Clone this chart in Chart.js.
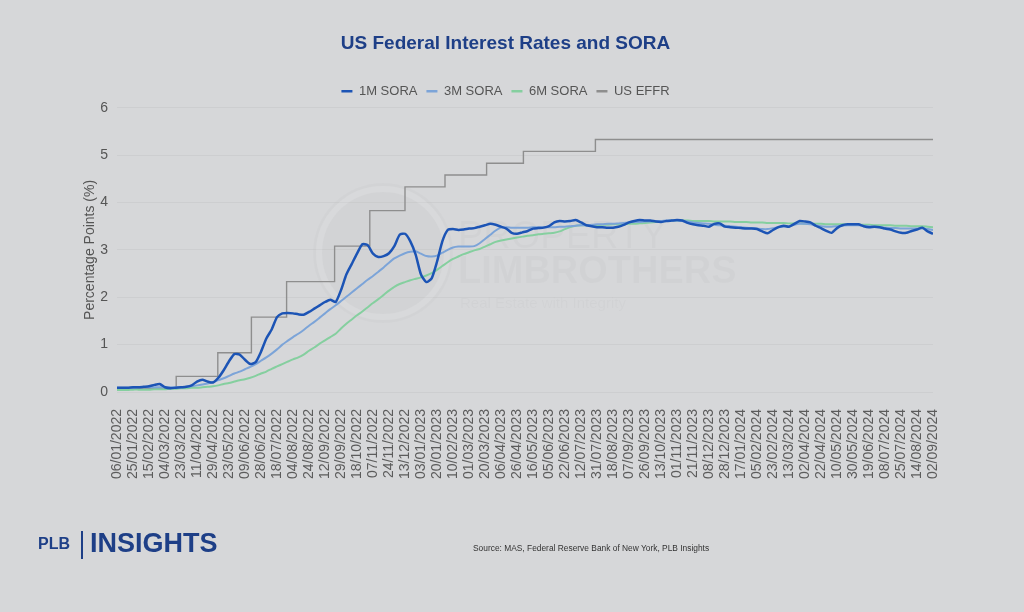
<!DOCTYPE html>
<html>
<head>
<meta charset="utf-8">
<script src="https://cdn.jsdelivr.net/npm/chart.js@4.4.1/dist/chart.umd.min.js"></script>
<style>
    html, body { margin: 0; padding: 0; background: #d6d7d9; }
    #wrap { position: relative; width: 1024px; height: 612px; overflow: hidden; }
    #chart { position: absolute; left: 0; top: 0; }
    .logo-plb { position: absolute; left: 38px; top: 535px; font: bold 16px "Liberation Sans", Arial, sans-serif; color: #1e3f87; }
    .logo-bar { position: absolute; left: 81px; top: 531px; width: 2px; height: 28px; background: #1e3f87; }
    .logo-ins { position: absolute; left: 90px; top: 528px; font: bold 27px "Liberation Sans", Arial, sans-serif; color: #1e3f87; }
    .source { position: absolute; left: 473px; top: 542px; font: 9.7px "Liberation Sans", Arial, sans-serif; color: #333; white-space: nowrap;
              transform: scaleX(0.865); transform-origin: left center; }
</style>
</head>
<body>
<div id="wrap">
    <canvas id="chart" width="1024" height="612"></canvas>
    <div class="logo-plb">PLB</div>
    <div class="logo-bar"></div>
    <div class="logo-ins">INSIGHTS</div>
    <div class="source">Source: MAS, Federal Reserve Bank of New York, PLB Insights</div>
</div>
<script>
// Tick labels on the x axis (one every ~13 business days)
const xTicks = [
    '06/01/2022', '25/01/2022', '15/02/2022', '04/03/2022', '23/03/2022', '11/04/2022',
    '29/04/2022', '23/05/2022', '09/06/2022', '28/06/2022', '18/07/2022', '04/08/2022',
    '24/08/2022', '12/09/2022', '29/09/2022', '18/10/2022', '07/11/2022', '24/11/2022',
    '13/12/2022', '03/01/2023', '20/01/2023', '10/02/2023', '01/03/2023', '20/03/2023',
    '06/04/2023', '26/04/2023', '16/05/2023', '05/06/2023', '22/06/2023', '12/07/2023',
    '31/07/2023', '18/08/2023', '07/09/2023', '26/09/2023', '13/10/2023', '01/11/2023',
    '21/11/2023', '08/12/2023', '28/12/2023', '17/01/2024', '05/02/2024', '23/02/2024',
    '13/03/2024', '02/04/2024', '22/04/2024', '10/05/2024', '30/05/2024', '19/06/2024',
    '08/07/2024', '25/07/2024', '14/08/2024', '02/09/2024'
];

// SORA readings, 3 samples per tick interval (first sample on the first tick)
const samplesPerTick = 3;

const sora1m = [
    0.09, 0.09, 0.09, 0.10, 0.10, 0.11, 0.12, 0.15, 0.17, 0.10,
    0.08, 0.09, 0.10, 0.11, 0.14, 0.22, 0.26, 0.22, 0.20, 0.30,
    0.46, 0.65, 0.80, 0.79, 0.68, 0.59, 0.63, 0.85, 1.13, 1.32,
    1.58, 1.66, 1.67, 1.66, 1.64, 1.63, 1.69, 1.76, 1.83, 1.90,
    1.95, 1.90, 2.15, 2.48, 2.70, 2.92, 3.12, 3.10, 2.92, 2.85,
    2.87, 2.93, 3.08, 3.32, 3.34, 3.18, 2.90, 2.48, 2.32, 2.40,
    2.75, 3.18, 3.42, 3.44, 3.42, 3.43, 3.45, 3.46, 3.49, 3.52,
    3.55, 3.53, 3.49, 3.45, 3.36, 3.34, 3.37, 3.40, 3.45, 3.46,
    3.47, 3.50, 3.58, 3.61, 3.60, 3.61, 3.63, 3.58, 3.52, 3.50,
    3.48, 3.48, 3.47, 3.47, 3.49, 3.53, 3.58, 3.61, 3.63, 3.62,
    3.62, 3.60, 3.59, 3.61, 3.62, 3.63, 3.62, 3.57, 3.54, 3.52,
    3.51, 3.49, 3.55, 3.56, 3.49, 3.48, 3.47, 3.46, 3.45, 3.45,
    3.44, 3.39, 3.35, 3.42, 3.48, 3.51, 3.49, 3.55, 3.61, 3.60,
    3.58, 3.51, 3.46, 3.40, 3.36, 3.46, 3.52, 3.54, 3.54, 3.54,
    3.50, 3.48, 3.49, 3.48, 3.45, 3.43, 3.39, 3.36, 3.36, 3.40,
    3.43, 3.47, 3.39, 3.34
];

const sora3m = [
    0.09, 0.09, 0.09, 0.09, 0.10, 0.10, 0.10, 0.10, 0.10, 0.10,
    0.10, 0.10, 0.10, 0.11, 0.12, 0.14, 0.16, 0.18, 0.21, 0.25,
    0.29, 0.34, 0.39, 0.43, 0.48, 0.53, 0.59, 0.66, 0.73, 0.81,
    0.90, 1.00, 1.08, 1.16, 1.23, 1.31, 1.40, 1.48, 1.57, 1.66,
    1.75, 1.83, 1.92, 2.01, 2.10, 2.19, 2.28, 2.37, 2.45, 2.54,
    2.63, 2.73, 2.82, 2.88, 2.93, 2.96, 2.97, 2.92, 2.87, 2.86,
    2.88, 2.94, 3.00, 3.05, 3.07, 3.07, 3.07, 3.08, 3.14, 3.23,
    3.32, 3.41, 3.47, 3.48, 3.47, 3.47, 3.47, 3.47, 3.48, 3.48,
    3.48, 3.48, 3.48, 3.49, 3.49, 3.50, 3.51, 3.52, 3.52, 3.53,
    3.54, 3.54, 3.55, 3.55, 3.56, 3.57, 3.58, 3.59, 3.59, 3.60,
    3.60, 3.61, 3.61, 3.62, 3.62, 3.62, 3.61, 3.60, 3.58, 3.57,
    3.56, 3.55, 3.53, 3.52, 3.51, 3.50, 3.49, 3.48, 3.47, 3.46,
    3.45, 3.44, 3.44, 3.46, 3.48, 3.49, 3.50, 3.53, 3.55, 3.55,
    3.54, 3.52, 3.50, 3.49, 3.49, 3.50, 3.51, 3.52, 3.52, 3.52,
    3.51, 3.50, 3.49, 3.48, 3.47, 3.46, 3.46, 3.45, 3.45, 3.45,
    3.45, 3.45, 3.44, 3.42
];

const sora6m = [
    0.04, 0.04, 0.04, 0.05, 0.05, 0.05, 0.05, 0.06, 0.06, 0.06,
    0.07, 0.07, 0.08, 0.08, 0.09, 0.09, 0.10, 0.11, 0.12, 0.14,
    0.17, 0.19, 0.22, 0.25, 0.27, 0.30, 0.34, 0.39, 0.43, 0.49,
    0.54, 0.59, 0.64, 0.69, 0.73, 0.79, 0.87, 0.94, 1.02, 1.09,
    1.16, 1.23, 1.34, 1.44, 1.53, 1.62, 1.70, 1.79, 1.88, 1.96,
    2.05, 2.14, 2.22, 2.28, 2.32, 2.36, 2.39, 2.42, 2.46, 2.51,
    2.58, 2.66, 2.74, 2.81, 2.86, 2.91, 2.95, 2.99, 3.02, 3.07,
    3.12, 3.17, 3.20, 3.22, 3.24, 3.26, 3.28, 3.30, 3.31, 3.33,
    3.34, 3.35, 3.36, 3.39, 3.44, 3.48, 3.51, 3.52, 3.52, 3.52,
    3.52, 3.53, 3.53, 3.54, 3.54, 3.54, 3.55, 3.55, 3.56, 3.57,
    3.58, 3.59, 3.60, 3.61, 3.62, 3.62, 3.62, 3.62, 3.61, 3.61,
    3.61, 3.61, 3.60, 3.60, 3.60, 3.60, 3.59, 3.59, 3.59, 3.58,
    3.58, 3.58, 3.57, 3.57, 3.57, 3.57, 3.56, 3.56, 3.56, 3.55,
    3.55, 3.55, 3.55, 3.54, 3.54, 3.54, 3.54, 3.54, 3.53, 3.53,
    3.53, 3.53, 3.52, 3.52, 3.52, 3.52, 3.51, 3.51, 3.51, 3.50,
    3.50, 3.50, 3.49, 3.48
];

// US EFFR: position of each rate change in tick units, and the new rate
const effrAt   = [0,    3.7,  6.3,  8.4,  10.6, 13.6, 15.8, 18.0, 20.5, 23.1, 25.4, 29.9, 51];
const effrRate = [0.08, 0.33, 0.83, 1.58, 2.33, 3.08, 3.83, 4.33, 4.58, 4.83, 5.08, 5.33, 5.33];

const navy = '#1e3f87';
const axisGrey = '#555555';

function toPoints(values) {
    return values.map((v, i) => ({ x: i / samplesPerTick, y: v }));
}

// Faint "Property Limbrothers" watermark behind the lines
const watermark = {
    id: 'watermark',
    beforeDatasetsDraw(chart) {
        const ctx = chart.ctx;
        ctx.save();
        ctx.fillStyle = 'rgba(0, 0, 0, 0.015)';
        ctx.beginPath();
        ctx.arc(383, 253, 70, 0, Math.PI * 2);
        ctx.fill();
        ctx.lineWidth = 6;
        ctx.strokeStyle = 'rgba(255, 255, 255, 0.12)';
        ctx.beginPath();
        ctx.arc(383, 253, 64, 0, Math.PI * 2);
        ctx.stroke();
        ctx.fillStyle = 'rgba(0, 0, 0, 0.02)';
        ctx.textBaseline = 'middle';
        ctx.font = '38px "Liberation Sans", Arial, sans-serif';
        ctx.fillText('PROPERTY', 458, 238);
        ctx.font = 'bold 38px "Liberation Sans", Arial, sans-serif';
        ctx.fillText('LIMBROTHERS', 458, 273);
        ctx.font = '15px "Liberation Sans", Arial, sans-serif';
        ctx.fillText('Real Estate with Integrity', 460, 304);
        ctx.restore();
    }
};

const ctx = document.getElementById('chart').getContext('2d');
new Chart(ctx, {
    type: 'line',
    data: {
        datasets: [
            {
                label: '1M SORA',
                data: toPoints(sora1m),
                borderColor: '#1c54b5',
                backgroundColor: '#1c54b5',
                borderWidth: 2.5,
                pointRadius: 0,
                tension: 0.2,
                borderJoinStyle: 'round'
            },
            {
                label: '3M SORA',
                data: toPoints(sora3m),
                borderColor: '#7ca4d8',
                backgroundColor: '#7ca4d8',
                borderWidth: 2,
                pointRadius: 0,
                tension: 0.2
            },
            {
                label: '6M SORA',
                data: toPoints(sora6m),
                borderColor: '#85cf9f',
                backgroundColor: '#85cf9f',
                borderWidth: 2,
                pointRadius: 0,
                tension: 0.2
            },
            {
                label: 'US EFFR',
                data: effrAt.map((x, i) => ({ x: x, y: effrRate[i] })),
                borderColor: '#8e8e8e',
                backgroundColor: '#8e8e8e',
                borderWidth: 1.4,
                pointRadius: 0,
                stepped: 'before'
            }
        ]
    },
    options: {
        responsive: false,
        animation: false,
        layout: {
            padding: { left: 78, right: 91, top: 0, bottom: 130 }
        },
        plugins: {
            title: {
                display: true,
                text: 'US Federal Interest Rates and SORA',
                color: navy,
                font: { family: '"Liberation Sans", Arial, sans-serif', size: 19, weight: 'bold' },
                padding: { top: 32, bottom: 21 }
            },
            legend: {
                position: 'top',
                labels: {
                    color: axisGrey,
                    font: { family: '"Liberation Sans", Arial, sans-serif', size: 13 },
                    usePointStyle: true,
                    pointStyle: 'line',
                    pointStyleWidth: 11,
                    boxHeight: 10,
                    padding: 9,
                    generateLabels: chart => Chart.defaults.plugins.legend.labels.generateLabels(chart)
                        .map(item => Object.assign(item, { lineWidth: 2.5 }))
                }
            },
            tooltip: { enabled: false }
        },
        scales: {
            x: {
                type: 'linear',
                min: 0,
                max: xTicks.length - 1,
                afterBuildTicks: scale => {
                    scale.ticks = xTicks.map((_, i) => ({ value: i }));
                },
                afterFit: scale => { scale.height = 90; },
                grid: { display: false },
                border: { display: false },
                ticks: {
                    autoSkip: false,
                    minRotation: 90,
                    maxRotation: 90,
                    padding: 9,
                    color: '#5c5c5c',
                    font: { family: '"Liberation Sans", Arial, sans-serif', size: 14 },
                    callback: value => xTicks[value]
                }
            },
            y: {
                min: 0,
                max: 6,
                afterFit: scale => { scale.width = 39; },
                grid: { color: 'rgba(0, 0, 0, 0.04)', drawTicks: false },
                border: { display: false },
                title: {
                    display: true,
                    text: 'Percentage Points (%)',
                    color: axisGrey,
                    font: { family: '"Liberation Sans", Arial, sans-serif', size: 14 }
                },
                ticks: {
                    stepSize: 1,
                    padding: 9,
                    color: axisGrey,
                    font: { family: '"Liberation Sans", Arial, sans-serif', size: 14 }
                }
            }
        }
    },
    plugins: [watermark]
});
</script>
</body>
</html>
